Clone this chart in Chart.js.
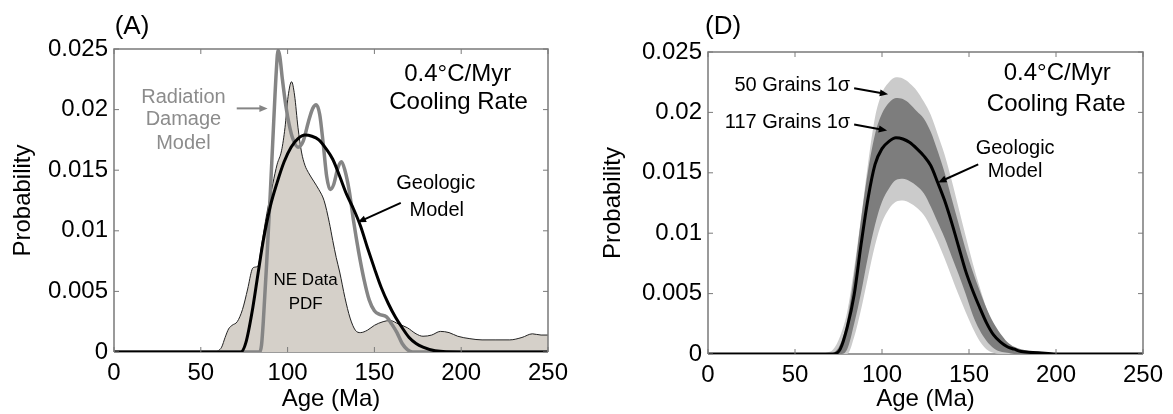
<!DOCTYPE html>
<html>
<head>
<meta charset="utf-8">
<script src="https://cdn.jsdelivr.net/npm/chart.js@4.4.0/dist/chart.umd.min.js"></script>
<style>
  html, body { margin: 0; padding: 0; background: #fff; }
  #wrapA { position: absolute; left: 0; top: 0; width: 580px; height: 414px; }
  #wrapD { position: absolute; left: 590px; top: 0; width: 583px; height: 414px; }
</style>
</head>
<body>
<div id="wrapA"><canvas id="chartA" width="580" height="414"></canvas></div>
<div id="wrapD"><canvas id="chartD" width="583" height="414"></canvas></div>
<script>
// axis tick labels
var xTickLabels = ['0', '50', '100', '150', '200', '250'];
var yTickLabels = ['0', '0.005', '0.01', '0.015', '0.02', '0.025'];

// (A) NE data PDF
var neAges = [0, 57, 60, 62, 64, 66, 68, 71, 74, 77, 79.5, 81, 83, 85, 88, 91.5, 94, 96.5, 98.5, 100.3,
  102.3, 104, 106, 108, 110, 112, 115, 118, 121, 124, 126, 128, 130, 133, 136, 139, 142, 146, 150, 155,
  159, 164, 169, 174, 178, 183, 188, 193, 198, 205, 212, 220, 228, 235, 241, 246, 250];
var neProb = [0, 0, 0.0001, 0.0004, 0.0012, 0.0019, 0.0022, 0.0025, 0.0035, 0.0052, 0.0068, 0.0070, 0.0071, 0.0088, 0.0114, 0.0139, 0.0155, 0.0166, 0.0185, 0.0211,
  0.0223, 0.0212, 0.0185, 0.0165, 0.0154, 0.0148, 0.0141, 0.0134, 0.0125, 0.0107, 0.0092, 0.0078, 0.0066, 0.0045, 0.0028, 0.0018, 0.0016, 0.0018, 0.0022, 0.0025,
  0.0026, 0.0023, 0.0020, 0.0015, 0.0013, 0.0014, 0.0017, 0.0016, 0.0013, 0.0011, 0.0010, 0.0010, 0.0010, 0.0012, 0.0015, 0.0014, 0.0014];

// (A) radiation damage model
var radAges = [0, 84, 85, 86, 88, 90, 92, 93.5, 94.5, 95.5, 97, 99, 101, 103, 106, 109, 112, 114.5, 116.5, 118.5,
  120.5, 122.5, 124.5, 126.5, 129, 131, 133, 135.5, 138, 141, 144, 147, 150, 153, 157, 160, 163, 166, 169, 172, 250];
var radProb = [0, 0, 0.0006, 0.0025, 0.0075, 0.0130, 0.0190, 0.0232, 0.0249, 0.0244, 0.0225, 0.0203, 0.0187, 0.0176, 0.0169, 0.0174, 0.0190, 0.0201, 0.0204, 0.0196,
  0.0172, 0.0145, 0.0134, 0.0138, 0.0152, 0.0157, 0.0150, 0.0133, 0.0108, 0.0082, 0.0060, 0.0043, 0.0034, 0.0031, 0.0029, 0.0023, 0.0016, 0.0007, 0.0002, 0, 0];

// (A) geologic model
var geoAAges = [0, 73, 76, 80, 83, 86, 90, 94, 98, 102, 106, 110, 114, 118, 122, 126, 130, 134, 138, 142,
  146, 150, 154, 158, 162, 166, 170, 174, 178, 185, 200, 250];
var geoAProb = [0, 0, 0.0008, 0.0037, 0.0065, 0.0092, 0.0120, 0.0140, 0.0157, 0.0169, 0.0176, 0.0179, 0.0178, 0.0175, 0.0168, 0.0159, 0.0145, 0.0130, 0.0118, 0.0104,
  0.0086, 0.0069, 0.0053, 0.0040, 0.0029, 0.0020, 0.0012, 0.0007, 0.0004, 0.0001, 0, 0];

// (D) geologic model with 1 sigma bands
var bandAges = [0, 64, 68, 72, 76, 80, 84, 88, 92, 96, 100, 104, 108, 112, 116, 120, 124, 128, 132, 136,
  140, 144, 148, 152, 156, 160, 164, 168, 172, 176, 180, 190, 200, 215, 250];
var geoDProb = [0, 0, 0, 0, 0.0004, 0.0022, 0.0049, 0.0091, 0.0129, 0.0157, 0.0170, 0.0176, 0.0179, 0.0178, 0.0175, 0.0170, 0.0164, 0.0156, 0.0142, 0.0127,
  0.0109, 0.0089, 0.0069, 0.0053, 0.0039, 0.0026, 0.0016, 0.0010, 0.0006, 0.0004, 0.0002, 0.0001, 0, 0, 0];
var grains50Hi = [0, 0, 0.0001, 0.0004, 0.0015, 0.0035, 0.0071, 0.0113, 0.0158, 0.0196, 0.0216, 0.0225, 0.0229, 0.0228, 0.0224, 0.0218, 0.0209, 0.0198, 0.0182, 0.0165,
  0.0144, 0.0121, 0.0098, 0.0076, 0.0056, 0.0038, 0.0024, 0.0014, 0.0008, 0.0005, 0.0003, 0.0002, 0.0001, 0, 0];
var grains50Lo = [0, 0, 0, 0, 0, 0, 0.0014, 0.0037, 0.0064, 0.0090, 0.0109, 0.0120, 0.0126, 0.0127, 0.0125, 0.0121, 0.0115, 0.0105, 0.0093, 0.0079,
  0.0064, 0.0049, 0.0035, 0.0022, 0.0011, 0.0004, 0.0001, 0, 0, 0, 0, 0, 0, 0, 0];
var grains117Hi = [0, 0, 0, 0.0001, 0.0008, 0.0028, 0.0066, 0.0112, 0.0152, 0.0182, 0.0199, 0.0208, 0.0212, 0.0211, 0.0207, 0.0201, 0.0195, 0.0184, 0.0168, 0.0150,
  0.0129, 0.0108, 0.0087, 0.0069, 0.0053, 0.0038, 0.0026, 0.0017, 0.0010, 0.0006, 0.0004, 0.0001, 0, 0, 0];
var grains117Lo = [0, 0, 0, 0, 0, 0.0004, 0.0025, 0.0051, 0.0081, 0.0107, 0.0126, 0.0137, 0.0144, 0.0145, 0.0143, 0.0139, 0.0133, 0.0122, 0.0109, 0.0096,
  0.0081, 0.0066, 0.0050, 0.0033, 0.0020, 0.0011, 0.0005, 0.0002, 0.0001, 0, 0, 0, 0, 0, 0];

Chart.defaults.font.family = '"Liberation Sans", Arial, Helvetica, sans-serif';
Chart.defaults.color = '#000';

function pts(ages, vals) {
  return ages.map(function (a, i) { return { x: a, y: vals[i] }; });
}

// box, inward ticks, labels and arrows (MATLAB look)
var panelDecor = {
  id: 'panelDecor',
  beforeDatasetsDraw: function (chart) {
    var ctx = chart.ctx, a = chart.chartArea;
    ctx.save();
    ctx.strokeStyle = '#7a7a7a';
    ctx.lineWidth = 1.5;
    ctx.beginPath();
    ctx.moveTo(a.left, a.bottom);
    ctx.lineTo(a.right, a.bottom);
    ctx.stroke();
    ctx.restore();
  },
  afterDatasetsDraw: function (chart, args, opts) {
    var ctx = chart.ctx, a = chart.chartArea;
    var xs = chart.scales.x, ys = chart.scales.y;
    ctx.save();
    ctx.strokeStyle = '#7a7a7a';
    ctx.lineWidth = 1.5;
    ctx.beginPath();
    ctx.moveTo(a.left, a.bottom);
    ctx.lineTo(a.left, a.top);
    ctx.lineTo(a.right, a.top);
    ctx.lineTo(a.right, a.bottom);
    ctx.stroke();
    ctx.lineWidth = 1;
    ctx.beginPath();
    xs.ticks.forEach(function (t) {
      var px = xs.getPixelForValue(t.value);
      ctx.moveTo(px, a.bottom); ctx.lineTo(px, a.bottom - 5);
      ctx.moveTo(px, a.top); ctx.lineTo(px, a.top + 5);
    });
    ys.ticks.forEach(function (t) {
      var py = ys.getPixelForValue(t.value);
      ctx.moveTo(a.left, py); ctx.lineTo(a.left + 5, py);
      ctx.moveTo(a.right, py); ctx.lineTo(a.right - 5, py);
    });
    ctx.stroke();

    (opts.notes || []).forEach(function (n) {
      ctx.font = n.size + 'px "Liberation Sans", Arial, Helvetica, sans-serif';
      ctx.fillStyle = n.color || '#000';
      ctx.textAlign = n.align || 'center';
      ctx.textBaseline = 'middle';
      ctx.fillText(n.text, xs.getPixelForValue(n.x), ys.getPixelForValue(n.y));
    });

    (opts.arrows || []).forEach(function (ar) {
      var x0 = xs.getPixelForValue(ar.from[0]), y0 = ys.getPixelForValue(ar.from[1]);
      var x1 = xs.getPixelForValue(ar.to[0]), y1 = ys.getPixelForValue(ar.to[1]);
      var ang = Math.atan2(y1 - y0, x1 - x0);
      ctx.strokeStyle = ar.color;
      ctx.fillStyle = ar.color;
      ctx.lineWidth = 2;
      ctx.beginPath();
      ctx.moveTo(x0, y0);
      ctx.lineTo(x1 - 6 * Math.cos(ang), y1 - 6 * Math.sin(ang));
      ctx.stroke();
      ctx.beginPath();
      ctx.moveTo(x1, y1);
      ctx.lineTo(x1 - 9 * Math.cos(ang - 0.4), y1 - 9 * Math.sin(ang - 0.4));
      ctx.lineTo(x1 - 9 * Math.cos(ang + 0.4), y1 - 9 * Math.sin(ang + 0.4));
      ctx.closePath();
      ctx.fill();
    });
    ctx.restore();
  }
};

function makeScales(yWidth, xHeight) {
  return {
    x: {
      type: 'linear', min: 0, max: 250,
      afterFit: function (s) { s.height = xHeight; },
      grid: { display: false, drawTicks: false },
      border: { display: false },
      ticks: {
        stepSize: 50, padding: 7, maxRotation: 0,
        font: { size: 24 },
        callback: function (v, i) { return xTickLabels[i]; }
      },
      title: { display: true, text: 'Age (Ma)', font: { size: 24 }, padding: { top: 0, bottom: 0 } }
    },
    y: {
      type: 'linear', min: 0, max: 0.025,
      afterFit: function (s) { s.width = yWidth; },
      grid: { display: false, drawTicks: false },
      border: { display: false },
      ticks: {
        stepSize: 0.005, padding: 6,
        font: { size: 24 },
        callback: function (v, i) { return yTickLabels[i]; }
      },
      title: { display: true, text: 'Probability', font: { size: 24 }, padding: { top: 9, bottom: 0 } }
    }
  };
}

var lineBase = { pointRadius: 0, cubicInterpolationMode: 'monotone' };

new Chart(document.getElementById('chartA').getContext('2d'), {
  type: 'line',
  data: {
    datasets: [
      Object.assign({ label: 'Geologic Model', data: pts(geoAAges, geoAProb), borderColor: '#000', borderWidth: 3, fill: false }, lineBase),
      Object.assign({ label: 'Radiation Damage Model', data: pts(radAges, radProb), borderColor: '#858585', borderWidth: 3.5, fill: false }, lineBase),
      Object.assign({ label: 'NE Data PDF', data: pts(neAges, neProb), borderColor: '#222', borderWidth: 1, backgroundColor: '#d5d0c9', fill: 'origin' }, lineBase)
    ]
  },
  options: {
    responsive: false,
    animation: false,
    layout: { padding: { left: 0, top: 49, right: 32, bottom: 0 } },
    plugins: {
      legend: { display: false },
      tooltip: { enabled: false },
      panelDecor: {
        notes: [
          { text: '(A)', x: 0.4, y: 0.0268, size: 26, align: 'left' },
          { text: '0.4\u00B0C/Myr', x: 198, y: 0.0229, size: 24 },
          { text: 'Cooling Rate', x: 198.5, y: 0.0206, size: 24 },
          { text: 'Radiation', x: 40, y: 0.0210, size: 20, color: '#8c8c8c' },
          { text: 'Damage', x: 40, y: 0.0192, size: 20, color: '#8c8c8c' },
          { text: 'Model', x: 40, y: 0.0172, size: 20, color: '#8c8c8c' },
          { text: 'Geologic', x: 185.3, y: 0.0139, size: 20 },
          { text: 'Model', x: 185.9, y: 0.0117, size: 20 },
          { text: 'NE Data', x: 110.4, y: 0.0059, size: 17 },
          { text: 'PDF', x: 110.4, y: 0.0039, size: 17 }
        ],
        arrows: [
          { from: [70.7, 0.0201], to: [88.5, 0.0201], color: '#858585' },
          { from: [165.2, 0.0123], to: [140.4, 0.0107], color: '#000' }
        ]
      }
    },
    scales: makeScales(114, 62)
  },
  plugins: [panelDecor]
});

new Chart(document.getElementById('chartD').getContext('2d'), {
  type: 'line',
  data: {
    datasets: [
      Object.assign({ label: 'Geologic Model', data: pts(bandAges, geoDProb), borderColor: '#000', borderWidth: 3, fill: false }, lineBase),
      Object.assign({ label: '117 Grains 1\u03C3 upper', data: pts(bandAges, grains117Hi), borderWidth: 0, borderColor: 'rgba(0,0,0,0)', backgroundColor: '#7d7d7d', fill: 2 }, lineBase),
      Object.assign({ label: '117 Grains 1\u03C3 lower', data: pts(bandAges, grains117Lo), borderWidth: 0, borderColor: 'rgba(0,0,0,0)', fill: false }, lineBase),
      Object.assign({ label: '50 Grains 1\u03C3 upper', data: pts(bandAges, grains50Hi), borderWidth: 0, borderColor: 'rgba(0,0,0,0)', backgroundColor: '#cbcbcb', fill: 4 }, lineBase),
      Object.assign({ label: '50 Grains 1\u03C3 lower', data: pts(bandAges, grains50Lo), borderWidth: 0, borderColor: 'rgba(0,0,0,0)', fill: false }, lineBase)
    ]
  },
  options: {
    responsive: false,
    animation: false,
    layout: { padding: { left: 0, top: 52, right: 30, bottom: 0 } },
    plugins: {
      legend: { display: false },
      tooltip: { enabled: false },
      panelDecor: {
        notes: [
          { text: '(D)', x: -1.7, y: 0.0271, size: 26, align: 'left' },
          { text: '0.4\u00B0C/Myr', x: 200.7, y: 0.0232, size: 24 },
          { text: 'Cooling Rate', x: 200.1, y: 0.0207, size: 24 },
          { text: 'Geologic', x: 176.5, y: 0.0170, size: 20 },
          { text: 'Model', x: 176.5, y: 0.0151, size: 20 },
          { text: '50 Grains 1\u03C3', x: 81.7, y: 0.0222, size: 20, align: 'right' },
          { text: '117 Grains 1\u03C3', x: 81.7, y: 0.0192, size: 20, align: 'right' }
        ],
        arrows: [
          { from: [155.3, 0.0157], to: [132.3, 0.0142], color: '#000' },
          { from: [84, 0.0220], to: [103.5, 0.0215], color: '#000' },
          { from: [84, 0.0190], to: [102.9, 0.0185], color: '#000' }
        ]
      }
    },
    scales: makeScales(118, 60)
  },
  plugins: [panelDecor]
});
</script>
</body>
</html>
